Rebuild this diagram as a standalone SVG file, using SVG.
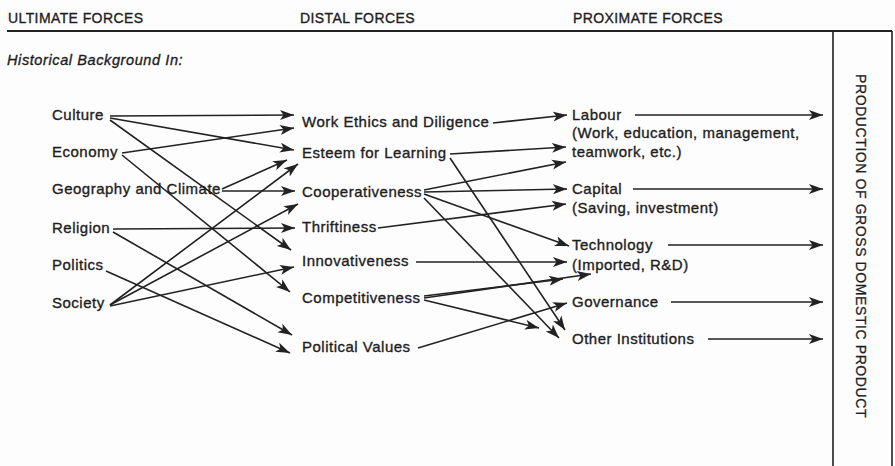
<svg xmlns="http://www.w3.org/2000/svg" width="895" height="466" viewBox="0 0 895 466">
<defs>
<style>
.h{font-family:"Liberation Sans",Arial,sans-serif;font-size:14px;letter-spacing:0.4px;fill:#1e1e1e;stroke:#1e1e1e;stroke-width:0.35}
.n{font-family:"Liberation Sans",Arial,sans-serif;font-size:15px;letter-spacing:0.5px;fill:#1e1e1e;stroke:#1e1e1e;stroke-width:0.35}
.it{font-family:"Liberation Sans",Arial,sans-serif;font-size:14.5px;letter-spacing:0.6px;font-style:italic;fill:#1e1e1e;stroke:#1e1e1e;stroke-width:0.35}
.v{font-family:"Liberation Sans",Arial,sans-serif;font-size:14px;letter-spacing:0.5px;fill:#1e1e1e;stroke:#1e1e1e;stroke-width:0.3}
.c line{stroke:#222;stroke-width:1.6;marker-end:url(#ah)}
.frame{stroke:#222;stroke-width:1.6;fill:none}
</style>
<marker id="ah" markerWidth="15" markerHeight="12" refX="14" refY="5.5" orient="auto" markerUnits="userSpaceOnUse">
<path d="M0,0.5 L14,5.5 L0,10.5 L3.5,5.5 z" fill="#222"/>
</marker>
</defs>
<rect width="895" height="466" fill="#fdfdfd"/>

<g id="headers">
<text class="h" x="8" y="23">ULTIMATE FORCES</text>
<text class="h" x="300" y="23">DISTAL FORCES</text>
<text class="h" x="573" y="23">PROXIMATE FORCES</text>
<text class="it" x="7" y="65">Historical Background In:</text>
</g>

<g id="frame">
<line class="frame" x1="7" y1="31" x2="892" y2="31" style="stroke-width:2"/>
<line class="frame" x1="833" y1="31" x2="833" y2="466"/>
<line class="frame" x1="892" y1="31" x2="892" y2="466"/>
</g>

<g id="connectors" class="c">
<!-- ultimate -> distal -->
<line x1="110" y1="116" x2="294" y2="115"/>
<line x1="110" y1="118" x2="294" y2="150"/>
<line x1="110" y1="120" x2="291" y2="250"/>
<line x1="122" y1="153" x2="294" y2="128"/>
<line x1="122" y1="155" x2="290" y2="292"/>
<line x1="222" y1="189" x2="287" y2="160"/>
<line x1="222" y1="191" x2="295" y2="191"/>
<line x1="113" y1="229" x2="295" y2="228"/>
<line x1="113" y1="232" x2="292" y2="335"/>
<line x1="106" y1="271" x2="290" y2="353"/>
<line x1="110" y1="305" x2="298" y2="164"/>
<line x1="110" y1="305" x2="298" y2="204"/>
<line x1="110" y1="306" x2="294" y2="267"/>
<!-- distal -> proximate -->
<line x1="493" y1="123" x2="567" y2="115"/>
<line x1="450" y1="154" x2="566" y2="147"/>
<line x1="450" y1="158" x2="565" y2="330"/>
<line x1="424" y1="190" x2="566" y2="162"/>
<line x1="424" y1="192" x2="567" y2="189"/>
<line x1="424" y1="194" x2="569" y2="246"/>
<line x1="424" y1="198" x2="559" y2="338"/>
<line x1="378" y1="228" x2="566" y2="204"/>
<line x1="416" y1="262" x2="567" y2="262"/>
<line x1="424" y1="296" x2="563" y2="279"/>
<line x1="424" y1="298" x2="591" y2="274"/>
<line x1="424" y1="300" x2="539" y2="328"/>
<line x1="418" y1="348" x2="567" y2="303"/>
<!-- proximate -> GDP -->
<line x1="635" y1="115" x2="823" y2="115"/>
<line x1="633" y1="189" x2="823" y2="189"/>
<line x1="668" y1="245" x2="823" y2="245"/>
<line x1="671" y1="302" x2="823" y2="302"/>
<line x1="708" y1="339" x2="823" y2="339"/>
</g>

<g id="culture"><text class="n" x="52" y="120">Culture</text></g>
<g id="economy"><text class="n" x="52" y="157">Economy</text></g>
<g id="geography"><text class="n" x="52" y="194">Geography and Climate</text></g>
<g id="religion"><text class="n" x="52" y="233">Religion</text></g>
<g id="politics"><text class="n" x="52" y="270">Politics</text></g>
<g id="society"><text class="n" x="52" y="308">Society</text></g>

<g id="work-ethics"><text class="n" x="302" y="127">Work Ethics and Diligence</text></g>
<g id="esteem"><text class="n" x="302" y="158">Esteem for Learning</text></g>
<g id="cooperativeness"><text class="n" x="302" y="197">Cooperativeness</text></g>
<g id="thriftiness"><text class="n" x="302" y="232">Thriftiness</text></g>
<g id="innovativeness"><text class="n" x="302" y="266">Innovativeness</text></g>
<g id="competitiveness"><text class="n" x="302" y="303">Competitiveness</text></g>
<g id="political-values"><text class="n" x="302" y="352">Political Values</text></g>

<g id="labour">
<text class="n" x="572" y="120">Labour</text>
<text class="n" x="572" y="138">(Work, education, management,</text>
<text class="n" x="572" y="157">teamwork, etc.)</text>
</g>
<g id="capital">
<text class="n" x="572" y="194">Capital</text>
<text class="n" x="572" y="213">(Saving, investment)</text>
</g>
<g id="technology">
<text class="n" x="572" y="250">Technology</text>
<text class="n" x="572" y="270">(Imported, R&amp;D)</text>
</g>
<g id="governance"><text class="n" x="572" y="307">Governance</text></g>
<g id="other-institutions"><text class="n" x="572" y="344">Other Institutions</text></g>

<g id="gdp">
<text class="v" transform="translate(856,246) rotate(90)" text-anchor="middle" textLength="344" lengthAdjust="spacing">PRODUCTION OF GROSS DOMESTIC PRODUCT</text>
</g>
</svg>
